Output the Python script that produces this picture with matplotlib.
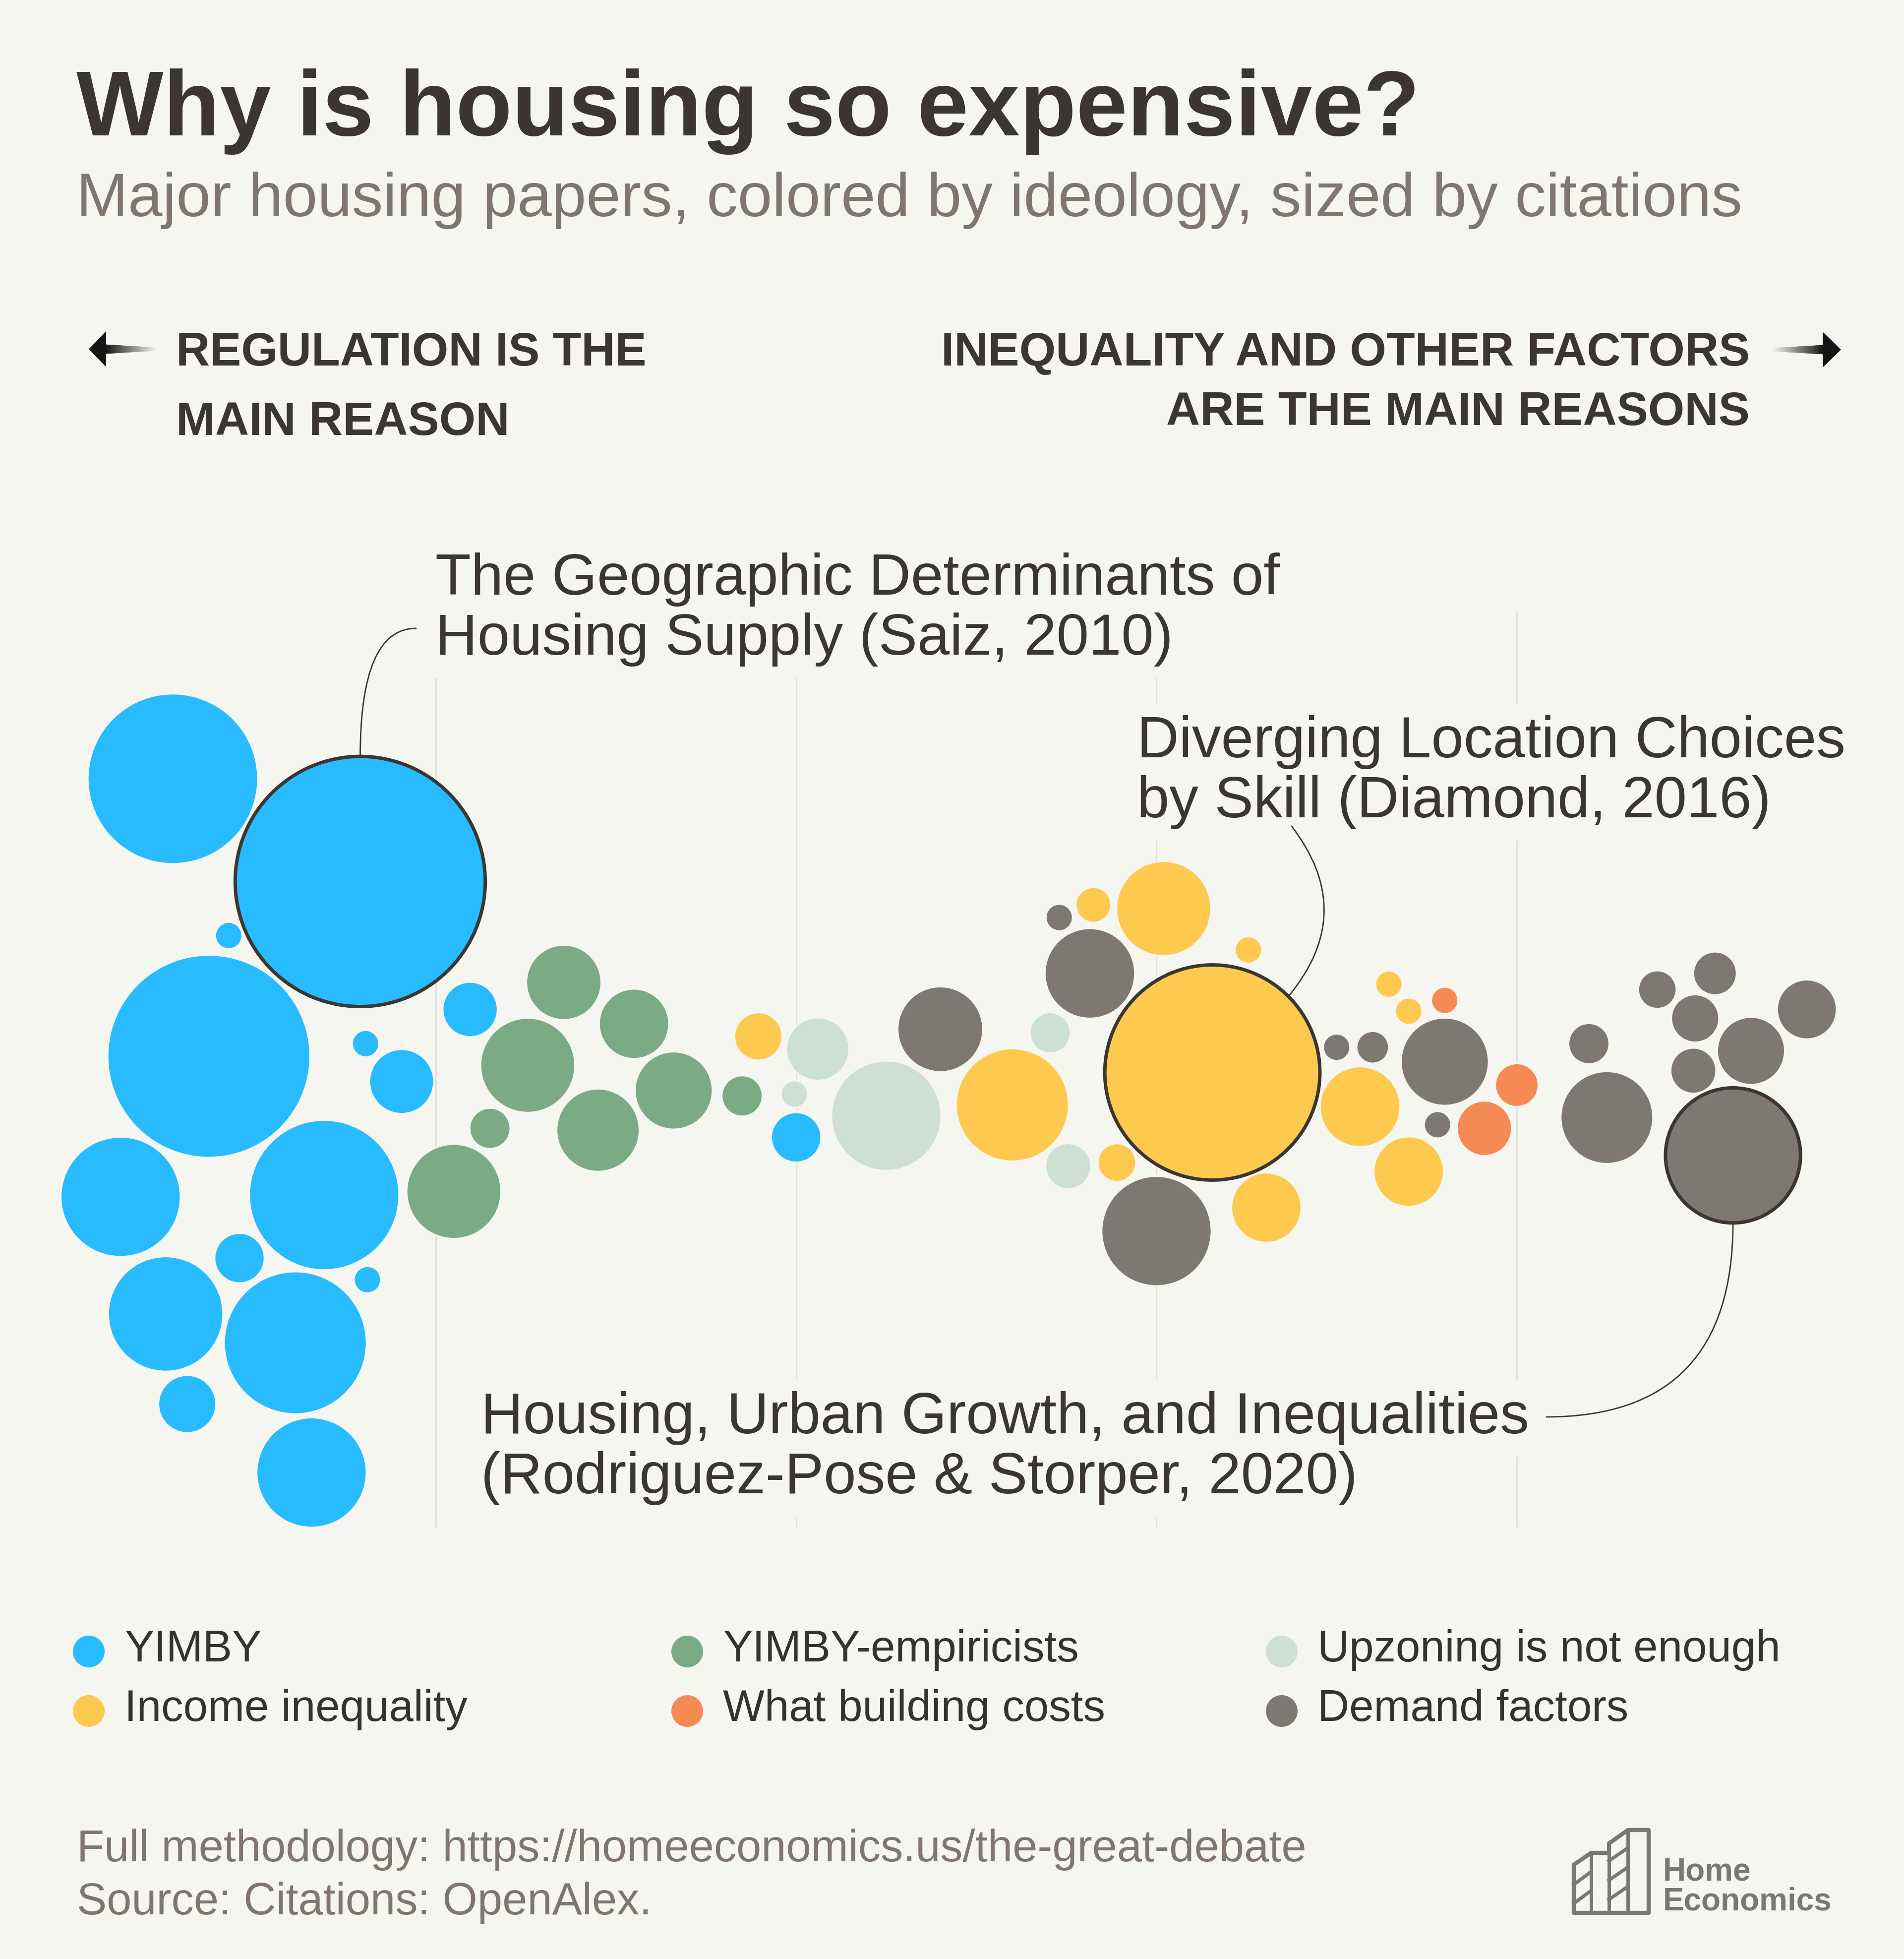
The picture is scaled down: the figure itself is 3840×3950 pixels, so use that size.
'''
Why is housing so expensive? - burbujas por ideología y citas
'''

# librerias -------
import matplotlib
matplotlib.use('Agg')
import matplotlib.pyplot as plt
import matplotlib.transforms as mtransforms
from matplotlib.patches import Circle, Polygon, ConnectionPatch
import numpy as np

plt.rcParams['font.family'] = ['Liberation Sans', 'DejaVu Sans']

# datos -------
# score: 0 = regulation is the main reason, 100 = other factors
# swarm: vertical offset given by the beeswarm layout (same units as score)
grupos = ['YIMBY', 'YIMBY-empiricists', 'Upzoning is not enough',
          'Income inequality', 'What building costs', 'Demand factors']

yimby_score = [5.4, 15.8, 8.5, 7.4, 16.1, 18.1, 21.9, 2.5, 13.8, 9.1, 16.2, 5.0, 12.2, 6.2, 13.1, 40.0]
yimby_swarm = [17.8, 12.1, 9.1, 2.4, 3.1, 1.0, 5.0, -5.4, -5.3, -8.8, -10.0, -11.9, -13.5, -16.9, -20.7, -2.1]
yimby_cites = [1390, 3000, 35, 1970, 35, 200, 145, 690, 1080, 120, 35, 635, 975, 160, 580, 120]

empir_score = [27.1, 31.0, 25.1, 33.2, 29.0, 23.0, 21.0, 37.0]
empir_swarm = [6.5, 4.2, 1.9, 0.5, -1.7, -1.6, -5.1, 0.2]
empir_cites = [270, 235, 430, 290, 330, 80, 430, 80]

upzon_score = [41.2, 39.9, 45.0, 54.1, 55.1]
upzon_swarm = [2.8, 0.3, -0.9, 3.7, -3.7]
upzon_cites = [190, 35, 580, 80, 100]

ineq_score = [37.9, 52.0, 56.5, 60.4, 65.1, 63.1, 57.8, 66.1, 72.9, 74.0, 71.3, 74.0]
ineq_swarm = [3.5, -0.3, 10.8, 10.6, 8.3, 1.5, -3.5, -6.0, 6.4, 4.9, -0.4, -4.0]
ineq_cites = [110, 610, 60, 430, 35, 2220, 70, 235, 35, 35, 310, 235]

costs_score = [76.0, 78.2, 80.0]
costs_swarm = [5.5, -1.6, 0.8]
costs_cites = [35, 145, 90]

demand_score = [48.0, 54.6, 56.3, 60.0, 70.0, 72.0, 76.0, 75.6, 84.0, 85.0,
                87.8, 91.0, 89.9, 96.1, 93.0, 89.8, 92.0]
demand_swarm = [3.9, 10.1, 7.0, -7.3, 2.9, 2.9, 2.1, -1.4, 3.1, -1.0,
                6.1, 7.0, 4.5, 5.0, 2.7, 1.6, -3.1]
demand_cites = [350, 35, 390, 580, 35, 50, 370, 35, 80, 410,
                70, 90, 110, 170, 220, 100, 875]

papers = {
    'YIMBY': (yimby_score, yimby_swarm, yimby_cites),
    'YIMBY-empiricists': (empir_score, empir_swarm, empir_cites),
    'Upzoning is not enough': (upzon_score, upzon_swarm, upzon_cites),
    'Income inequality': (ineq_score, ineq_swarm, ineq_cites),
    'What building costs': (costs_score, costs_swarm, costs_cites),
    'Demand factors': (demand_score, demand_swarm, demand_cites),
}

# papers with a label: (group, index in group)
destacados = [
    ('YIMBY', 1, 'The Geographic Determinants of\nHousing Supply (Saiz, 2010)'),
    ('Income inequality', 5, 'Diverging Location Choices\nby Skill (Diamond, 2016)'),
    ('Demand factors', 16, 'Housing, Urban Growth, and Inequalities\n(Rodriguez-Pose & Storper, 2020)'),
]

grid_scores = [20, 40, 60, 80]

# estilo -------
BG = '#f6f6f1'
DARK = '#3b3632'
GRAY = '#7f7571'
colores = {
    'YIMBY': '#29bbff',
    'YIMBY-empiricists': '#7aab84',
    'Upzoning is not enough': '#cde0d3',
    'Income inequality': '#fdca4f',
    'What building costs': '#f58a55',
    'Demand factors': '#7e7873',
}

W, H = 3840, 3950
fig = plt.figure(figsize=(W / 100, H / 100), dpi=100, facecolor=BG)
# pixel coordinates, origin top-left
PX = mtransforms.Affine2D().scale(1 / W, -1 / H).translate(0, 1) + fig.transFigure


def texto(x, y, s, size, color=DARK, weight='normal', ha='left', target=None, **kw):
    target = fig if target is None else target
    return target.text(x, y, s, transform=PX, fontsize=size, color=color,
                       fontweight=weight, ha=ha, va='baseline', **kw)


# titulos -------
texto(154, 273, 'Why is housing so expensive?', 134, weight='bold')
texto(154, 436, 'Major housing papers, colored by ideology, sized by citations', 90, color=GRAY)

texto(355, 737, 'REGULATION IS THE', 68, weight='bold')
texto(355, 877, 'MAIN REASON', 68, weight='bold')
texto(3529, 737, 'INEQUALITY AND OTHER FACTORS', 68, weight='bold', ha='right')
texto(3529, 857, 'ARE THE MAIN REASONS', 68, weight='bold', ha='right')


def flecha(tip, base, tail, y):
    fig.add_artist(Polygon([(tip, y), (base, y - 36), (base, y + 36)], closed=True,
                           transform=PX, facecolor='#141414', edgecolor='none'))
    n = 40
    xs = np.linspace(base, tail, n + 1)
    grosor = np.linspace(9, 3, n + 1)
    c0 = np.array(matplotlib.colors.to_rgb('#141414'))
    c1 = np.array(matplotlib.colors.to_rgb(BG))
    for i in range(n):
        f = (i + 0.5) / n
        col = c0 * (1 - f) + c1 * f
        pts = [(xs[i], y - grosor[i]), (xs[i + 1], y - grosor[i + 1]),
               (xs[i + 1], y + grosor[i + 1]), (xs[i], y + grosor[i])]
        fig.add_artist(Polygon(pts, closed=True, transform=PX, facecolor=col,
                               edgecolor=col, lw=0.5))


flecha(179, 214, 316, 704)
flecha(3713, 3676, 3574, 705)

# grafico de burbujas -------
ax = fig.add_axes([0, 0, 1, 1])
ax.set_axis_off()
x0_px, unit_px, y0_px = 152.4, 36.334, 2217
ax.set_xlim(-x0_px / unit_px, (W - x0_px) / unit_px)
ax.set_ylim(-(H - y0_px) / unit_px, y0_px / unit_px)

gtrans = mtransforms.blended_transform_factory(ax.transData, PX)
ax.vlines(grid_scores, 1235, 3079, transform=gtrans, color='#e0dfdb', lw=2, zorder=1)

R_MAX = 6.94
max_c = max(max(v[2]) for v in papers.values())


def radio(c):
    return R_MAX * np.sqrt(c / max_c)


marcados = {(g, i) for g, i, _ in destacados}
for g in grupos:
    sc, sw, ci = papers[g]
    for i, (x, y, c) in enumerate(zip(sc, sw, ci)):
        if (g, i) in marcados:
            ax.add_patch(Circle((x, y), radio(c), facecolor=colores[g],
                                edgecolor=DARK, lw=5, zorder=3.5))
        else:
            ax.add_patch(Circle((x, y), radio(c), facecolor=colores[g],
                                edgecolor=BG, lw=2.5, zorder=3))

# etiquetas de papers -------
# (text x, first baseline, connector start, connection style, edge angle)
etiquetas = [
    (878, 1199, (839, 1267), 'angle3,angleA=0,angleB=90', 90),
    (2293, 1527, (2605, 1666), 'arc3,rad=-0.4', 45),
    (970, 2890, (3119, 2857), 'angle3,angleA=0,angleB=90', -90),
]
for (g, i, titulo), (tx, ty, start, estilo, ang) in zip(destacados, etiquetas):
    for k, linea in enumerate(titulo.split('\n')):
        # background box hides the grid lines behind the label
        texto(tx, ty + 121 * k, linea, 84.5, color=(0, 0, 0, 0), target=ax, zorder=1.5,
              bbox=dict(boxstyle='square,pad=0.2', facecolor=BG, edgecolor='none'))
        texto(tx, ty + 121 * k, linea, 84.5, target=ax, zorder=2)
    sc, sw, ci = papers[g]
    r = radio(ci[i])
    borde = (sc[i] + r * np.cos(np.radians(ang)), sw[i] + r * np.sin(np.radians(ang)))
    con = ConnectionPatch(xyA=start, coordsA=PX, xyB=borde, coordsB=ax.transData,
                          connectionstyle=estilo, arrowstyle='-', color=DARK,
                          lw=2, zorder=4)
    ax.add_artist(con)

# leyenda -------
leg_x = [179, 1386, 2585]
leg_y = [3330, 3450]
for n, g in enumerate(grupos):
    cx, cy = leg_x[n % 3], leg_y[n // 3]
    fig.add_artist(Circle((cx, cy), 32, transform=PX, facecolor=colores[g], edgecolor='none'))
    texto(cx + 72, cy + 20, g, 64, color='#333333')

# pie -------
texto(155, 3753, 'Full methodology: https://homeeconomics.us/the-great-debate', 65, color=GRAY)
texto(155, 3860, 'Source: Citations: OpenAlex.', 65, color=GRAY)

# logo Home Economics
LOGO = '#787878'
fig.add_artist(Polygon([(3174, 3857), (3174, 3760), (3209, 3736), (3245, 3736),
                        (3245, 3717), (3283, 3690), (3325, 3690), (3325, 3857)],
                       closed=True, transform=PX, facecolor='none', edgecolor=LOGO,
                       lw=6, joinstyle='round'))
for xv, ytop in [(3209, 3736), (3245, 3736), (3283, 3690)]:
    fig.add_artist(plt.Line2D([xv, xv], [ytop, 3857], transform=PX, color=LOGO, lw=5))
for xa, xb, ya in [(3174, 3209, 3800), (3174, 3209, 3838),
                   (3245, 3283, 3752), (3245, 3283, 3791), (3245, 3283, 3830)]:
    fig.add_artist(plt.Line2D([xa, xb], [ya, ya - 26], transform=PX, color=LOGO, lw=5))
texto(3354, 3792, 'Home', 46, color=LOGO, weight='bold')
texto(3354, 3852, 'Economics', 46, color=LOGO, weight='bold')

fig.savefig('out.png', dpi=100, facecolor=BG)
